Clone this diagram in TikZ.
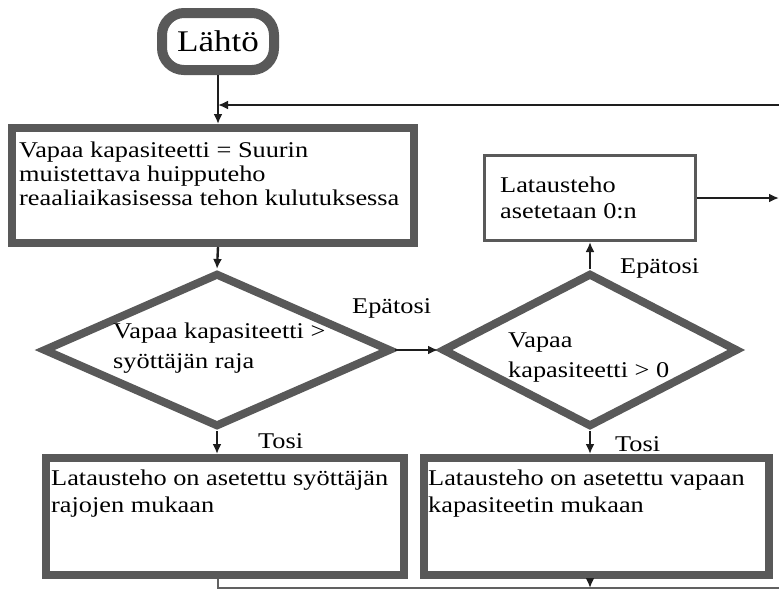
\documentclass[tikz,border=0pt]{standalone}
\usepackage{fontspec}
\setmainfont{Liberation Serif}[FakeStretch=1.17]
\usetikzlibrary{shapes.geometric,arrows.meta}
\definecolor{boxgray}{HTML}{595959}
\definecolor{linecol}{HTML}{1E1E1E}
\tikzset{
  thickbox/.style={rectangle, draw=boxgray, line width=8pt, fill=white, inner sep=0pt},
  thinbox/.style={rectangle, draw=boxgray, line width=3pt, fill=white, inner sep=0pt},
  decision/.style={diamond, draw=boxgray, line width=8pt, fill=white, inner sep=0pt},
  startbox/.style={rectangle, rounded corners=22pt, draw=boxgray, line width=10pt, fill=white, inner sep=0pt, font=\fontsize{30}{32}\selectfont},
  txt/.style={anchor=base west, inner sep=0pt, font=\fontsize{22.5}{24}\selectfont},
  conn/.style={draw=linecol, line width=2.4pt, -{Latex[length=10pt,width=9pt]}},
  plainline/.style={draw=linecol!70, line width=1.6pt}
}
\begin{document}
\begin{tikzpicture}[x=1pt,y=-1pt]
\useasboundingbox (0,0) rectangle (779,590);
\fill[white] (0,0) rectangle (779,590);

% shapes
\node[startbox, minimum width=112pt, minimum height=57pt] (start) at (218,41.5) {Lähtö};
\node[thickbox, minimum width=402pt, minimum height=115pt] (box1) at (213,185.5) {};
\node[decision, minimum width=348pt, minimum height=154pt] (d1) at (217,350) {};
\node[decision, minimum width=296pt, minimum height=154pt] (d2) at (590,350) {};
\node[thinbox, minimum width=211pt, minimum height=85pt] (box2) at (590,198) {};
\node[thickbox, minimum width=358pt, minimum height=117pt] (box3) at (225,516.5) {};
\node[thickbox, minimum width=345pt, minimum height=117pt] (box4) at (596.5,516.5) {};

% texts
\node[txt] (b1a) at (19,157) {Vapaa kapasiteetti = Suurin};
\node[txt] (b1b) at (19,181) {muistettava huipputeho};
\node[txt] (b1c) at (19,205) {reaaliaikasisessa tehon kulutuksessa};
\node[txt] (d1a) at (113,338) {Vapaa kapasiteetti >};
\node[txt] (d1b) at (113,368) {syöttäjän raja};
\node[txt] (d2a) at (508,347) {Vapaa};
\node[txt] (d2b) at (508,377) {kapasiteetti > 0};
\node[txt] (b2a) at (500,192) {Latausteho};
\node[txt] (b2b) at (500,218) {asetetaan 0:n};
\node[txt] (b3a) at (51,485) {Latausteho on asetettu syöttäjän};
\node[txt] (b3b) at (51,512) {rajojen mukaan};
\node[txt] (b4a) at (428,485) {Latausteho on asetettu vapaan};
\node[txt] (b4b) at (428,512) {kapasiteetin mukaan};
\node[txt] (no1) at (352,313) {Epätosi};
\node[txt] (no2) at (620,273) {Epätosi};
\node[txt] (yes1) at (258,448) {Tosi};
\node[txt] (yes2) at (615,451) {Tosi};

% connectors
\coordinate (fbR) at (779,105);
\coordinate (outR) at (779,198);
\coordinate (botL) at (218,588);
\coordinate (botR) at (779,588);
\draw[conn] (start.south) -- (start.south |- box1.north);
\draw[conn] (fbR) -- (fbR -| start.south);
\draw[conn] (start.south |- box1.south) -- (d1.north);
\draw[conn] (d1.east) -- (d2.west);
\draw[conn] (d2.north) -- (box2.south);
\draw[conn] (box2.east) -- (outR);
\draw[conn] (d1.south) -- (d1.south |- box3.north);
\draw[conn] (d2.south) -- (d2.south |- box4.north);
\draw[plainline] (box3.south -| botL) -- (botL) -- (botR);
\draw[conn] (d2.south |- box4.south) -- (d2.south |- botL);
\end{tikzpicture}
\end{document}
